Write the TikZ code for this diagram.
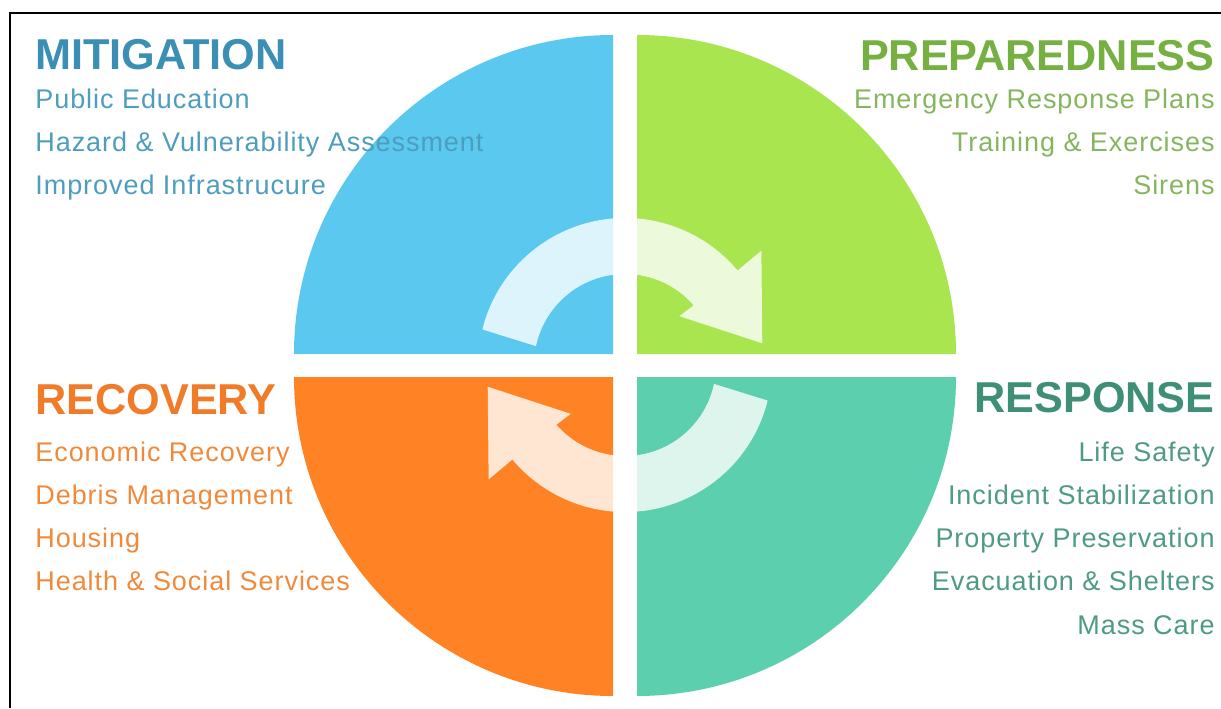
\documentclass[tikz,border=0pt]{standalone}
\usepackage{fontspec}
\setmainfont{Liberation Sans}
\newfontfamily\hdfamily{Liberation Sans Bold}
\newfontfamily\itfamily[LetterSpace=3.5]{Liberation Sans}
\newcommand{\hdfont}{\hdfamily\fontsize{21.6pt}{24pt}\selectfont}
\newcommand{\itfont}{\itfamily\fontsize{13.5pt}{15pt}\selectfont}
\definecolor{blueq}{HTML}{5BC8F0}
\definecolor{greenq}{HTML}{A8E54F}
\definecolor{orangeq}{HTML}{FF8324}
\definecolor{tealq}{HTML}{5BCFAE}
\definecolor{bluehd}{HTML}{3B8EB4}
\definecolor{bluetx}{HTML}{4F9DBD}
\definecolor{greenhd}{HTML}{76B043}
\definecolor{greentx}{HTML}{86B560}
\definecolor{orangehd}{HTML}{F07C2A}
\definecolor{orangetx}{HTML}{F08A3A}
\definecolor{tealhd}{HTML}{3F8E77}
\definecolor{tealtx}{HTML}{4E9A83}
\begin{document}
\begin{tikzpicture}[x=0.5pt,y=0.5pt,
  arrowshape/.style={fill=white, fill opacity=0.8},
  hd/.style={font=\hdfont, inner sep=0pt},
  itm/.style={font=\itfont, inner sep=0pt}]
\useasboundingbox (0,0) rectangle (1221,708);
% quadrants
\fill[blueq] (613,354) -- ++(-319,0) arc[start angle=180,end angle=90,radius=319] -- cycle;
\fill[greenq] (637,354) -- ++(0,319) arc[start angle=90,end angle=0,radius=319] -- cycle;
\fill[orangeq] (613,331) -- ++(0,-319) arc[start angle=270,end angle=180,radius=319] -- cycle;
\fill[tealq] (637,331) -- ++(319,0) arc[start angle=0,end angle=-90,radius=319] -- cycle;
% cycle arrows
\begin{scope}[shift={(625,343)}]
\fill[arrowshape] (166:147) arc[start angle=166,end angle=40,radius=147]
  -- (40:178) -- (9:139) -- (42:73) -- (41:91)
  arc[start angle=41,end angle=168,radius=91] -- cycle;
\begin{scope}[rotate=180]
\fill[arrowshape] (166:147) arc[start angle=166,end angle=40,radius=147]
  -- (40:178) -- (9:139) -- (42:73) -- (41:91)
  arc[start angle=41,end angle=168,radius=91] -- cycle;
\end{scope}
\end{scope}
% frame
\draw[line width=1pt, black] (10,0) -- (10,694.5) -- (1221,694.5);
% Mitigation
\node[hd, text=bluehd, anchor=base west] (mit) at (35,638) {MITIGATION};
\node[itm, text=bluetx, anchor=base west] (mit1) at (35,599) {Public Education};
\node[itm, text=bluetx, anchor=base west] (mit2) at (35,556) {Hazard \& Vulnerability Assessment};
\node[itm, text=bluetx, anchor=base west] (mit3) at (35,513) {Improved Infrastrucure};
% Preparedness
\node[hd, text=greenhd, anchor=base east] (pre) at (1215,637) {PREPAREDNESS};
\node[itm, text=greentx, anchor=base east] (pre1) at (1215,599) {Emergency Response Plans};
\node[itm, text=greentx, anchor=base east] (pre2) at (1215,556) {Training \& Exercises};
\node[itm, text=greentx, anchor=base east] (pre3) at (1215,513) {Sirens};
% Recovery
\node[hd, text=orangehd, anchor=base west] (rec) at (35,293) {RECOVERY};
\node[itm, text=orangetx, anchor=base west] (rec1) at (35,247) {Economic Recovery};
\node[itm, text=orangetx, anchor=base west] (rec2) at (35,204) {Debris Management};
\node[itm, text=orangetx, anchor=base west] (rec3) at (35,161) {Housing};
\node[itm, text=orangetx, anchor=base west] (rec4) at (35,118) {Health \& Social Services};
% Response
\node[hd, text=tealhd, anchor=base east] (res) at (1215,296) {RESPONSE};
\node[itm, text=tealtx, anchor=base east] (res1) at (1215,247) {Life Safety};
\node[itm, text=tealtx, anchor=base east] (res2) at (1215,204) {Incident Stabilization};
\node[itm, text=tealtx, anchor=base east] (res3) at (1215,161) {Property Preservation};
\node[itm, text=tealtx, anchor=base east] (res4) at (1215,118) {Evacuation \& Shelters};
\node[itm, text=tealtx, anchor=base east] (res5) at (1215,74) {Mass Care};
\end{tikzpicture}
\end{document}
